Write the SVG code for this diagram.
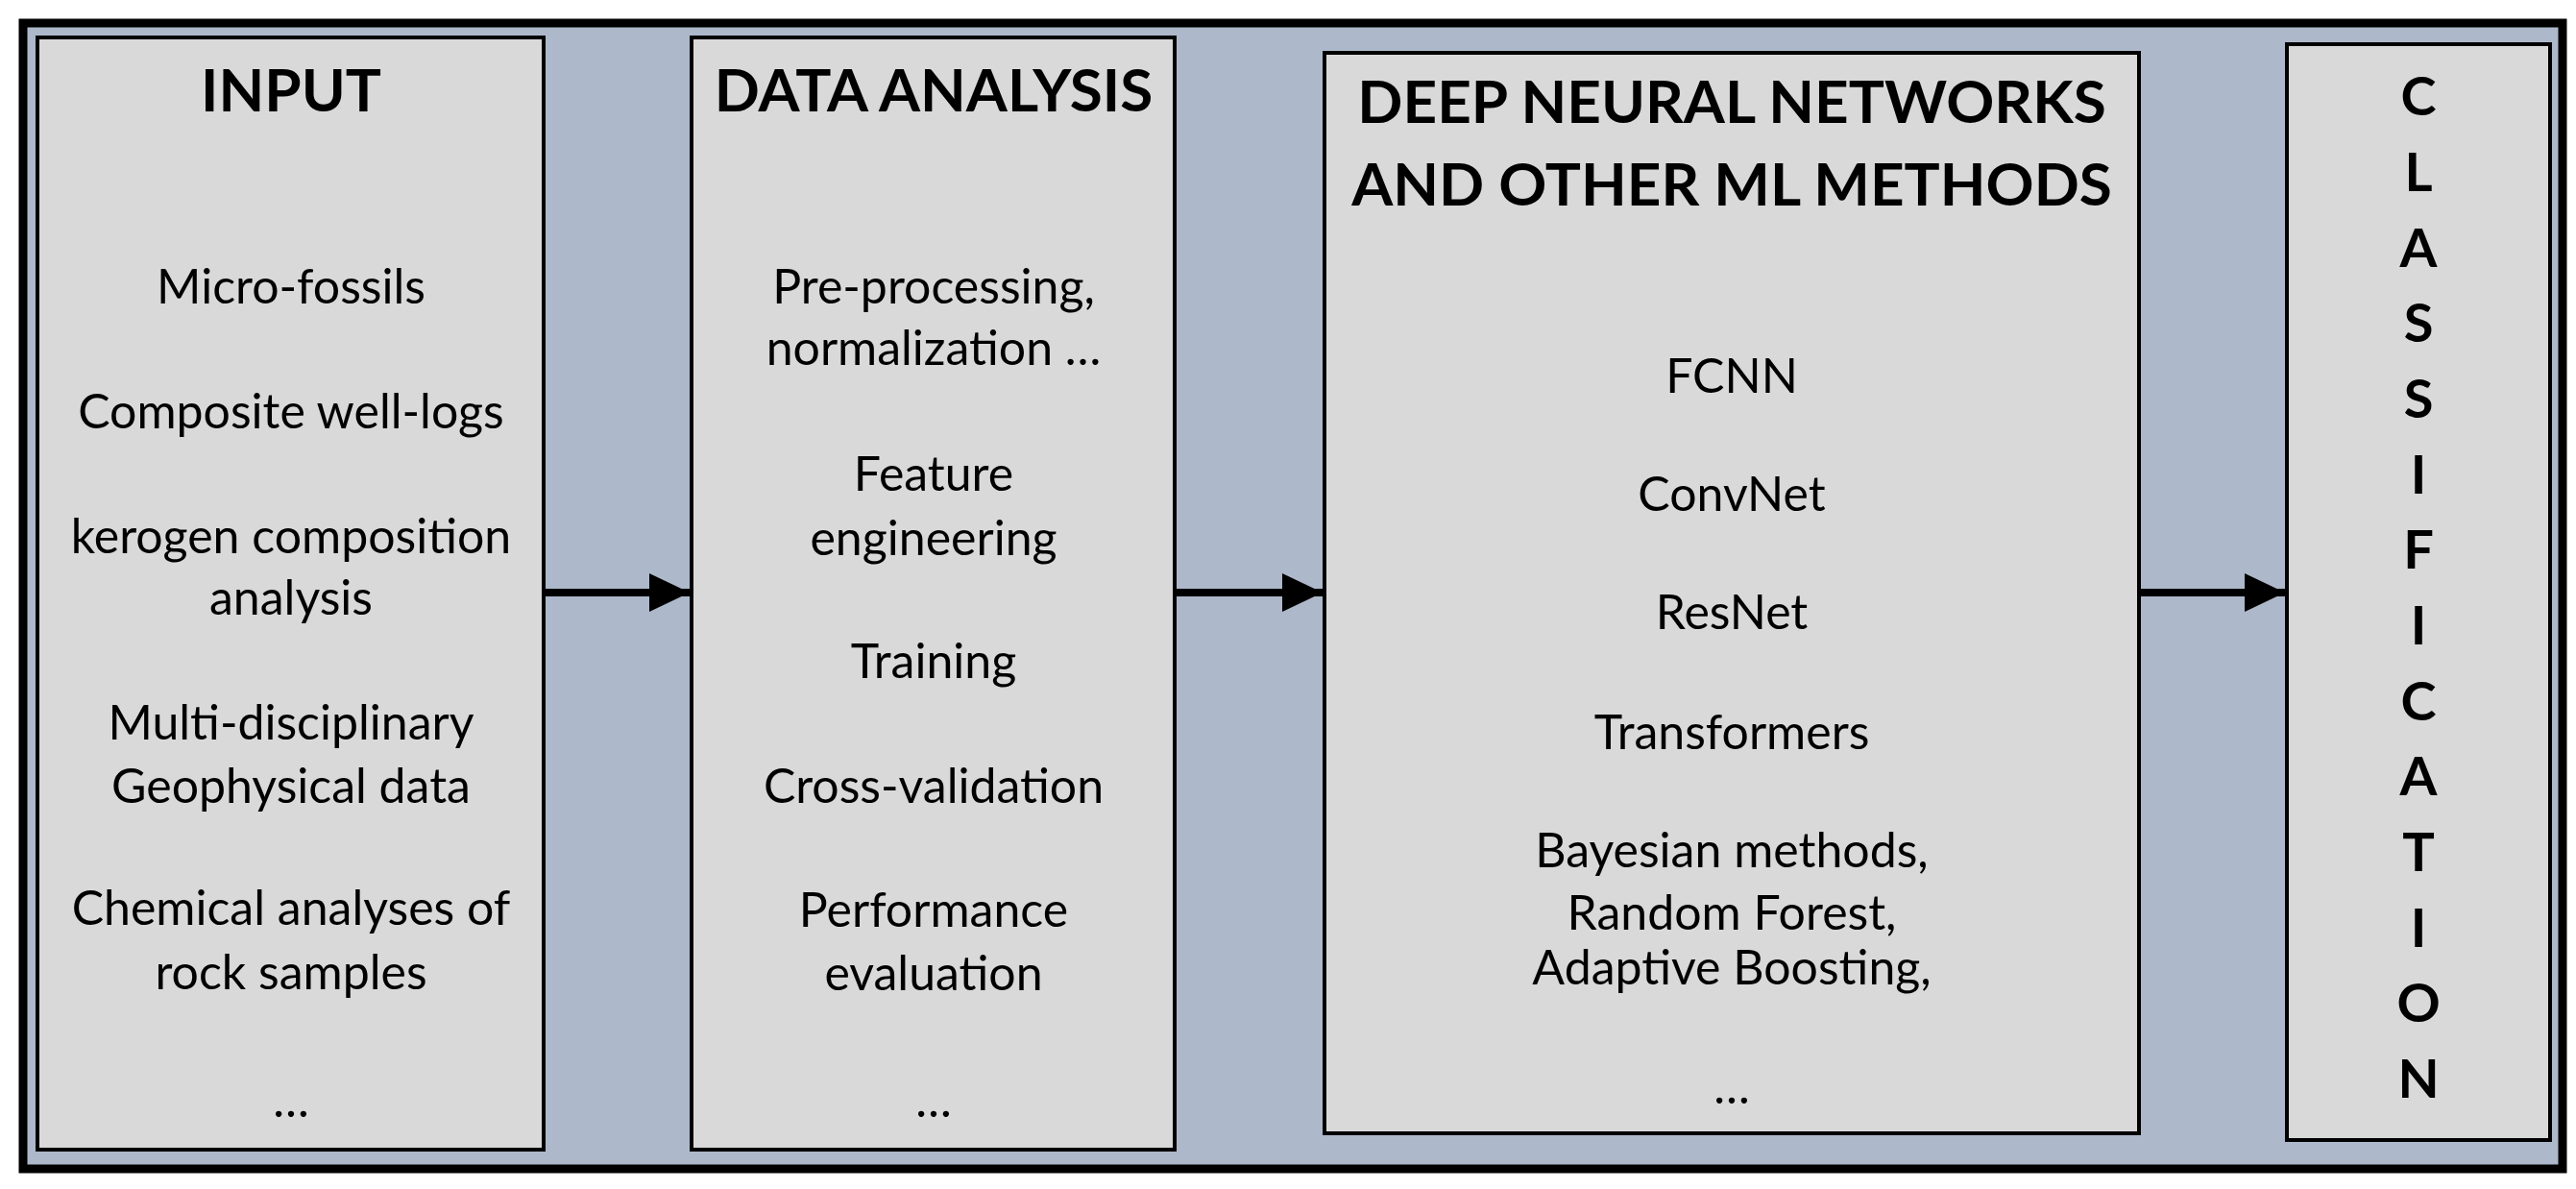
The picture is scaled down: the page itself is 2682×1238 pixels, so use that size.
<svg xmlns="http://www.w3.org/2000/svg" width="2682" height="1238" viewBox="0 0 2682 1238">
<style>
.box{fill:#d9d9d9;stroke:#000;stroke-width:4}
.t{font-family:Lato,"Liberation Sans",sans-serif;font-weight:bold;font-size:62px;text-anchor:middle;fill:#000}
.b{font-family:Lato,"Liberation Sans",sans-serif;font-size:50px;text-anchor:middle;fill:#000}
.c{font-family:Lato,"Liberation Sans",sans-serif;font-weight:bold;font-size:56px;text-anchor:middle;fill:#000}
.arr{stroke:#000;stroke-width:8;fill:none;marker-end:url(#ah)}
</style>
<defs><marker id="ah" markerUnits="userSpaceOnUse" markerWidth="44" markerHeight="44" refX="42" refY="22" orient="auto"><path d="M0,2 L42,22 L0,42 Z" fill="#000"/></marker></defs>
<rect width="2682" height="1238" fill="#fff"/>
<rect x="24" y="24" width="2644" height="1193" fill="#adb9ca" stroke="#000" stroke-width="9"/>
<g id="input">
<rect class="box" x="39" y="39" width="527" height="1158"/>
<text class="t" x="303" y="116">INPUT</text>
<text class="b" x="303" y="316">Micro-fossils</text>
<text class="b" x="303" y="446">Composite well-logs</text>
<text class="b" x="303" y="576">kerogen composition</text>
<text class="b" x="303" y="640">analysis</text>
<text class="b" x="303" y="770">Multi-disciplinary</text>
<text class="b" x="303" y="836">Geophysical data</text>
<text class="b" x="303" y="963">Chemical analyses of</text>
<text class="b" x="303" y="1030">rock samples</text>
<text class="b" x="303" y="1163">…</text>
</g>
<g id="data">
<rect class="box" x="720" y="39" width="503" height="1158"/>
<text class="t" x="972" y="116">DATA ANALYSIS</text>
<text class="b" x="972" y="316">Pre-processing,</text>
<text class="b" x="972" y="380">normalization …</text>
<text class="b" x="972" y="511">Feature</text>
<text class="b" x="972" y="578">engineering</text>
<text class="b" x="972" y="706">Training</text>
<text class="b" x="972" y="836">Cross-validation</text>
<text class="b" x="972" y="965">Performance</text>
<text class="b" x="972" y="1031">evaluation</text>
<text class="b" x="972" y="1163">…</text>
</g>
<g id="dnn">
<rect class="box" x="1379" y="55" width="848" height="1125"/>
<text class="t" x="1803" y="128">DEEP NEURAL NETWORKS</text>
<text class="t" x="1803" y="214">AND OTHER ML METHODS</text>
<text class="b" x="1803" y="409">FCNN</text>
<text class="b" x="1803" y="532">ConvNet</text>
<text class="b" x="1803" y="655">ResNet</text>
<text class="b" x="1803" y="780">Transformers</text>
<text class="b" x="1803" y="903">Bayesian methods,</text>
<text class="b" x="1803" y="968">Random Forest,</text>
<text class="b" x="1803" y="1025">Adaptive Boosting,</text>
<text class="b" x="1803" y="1149">…</text>
</g>
<g id="classification">
<rect class="box" x="2381" y="46" width="274" height="1141"/>
<text class="c" x="2518" y="120">C</text>
<text class="c" x="2518" y="199">L</text>
<text class="c" x="2518" y="278">A</text>
<text class="c" x="2518" y="356">S</text>
<text class="c" x="2518" y="435">S</text>
<text class="c" x="2518" y="514">I</text>
<text class="c" x="2518" y="592">F</text>
<text class="c" x="2518" y="671">I</text>
<text class="c" x="2518" y="750">C</text>
<text class="c" x="2518" y="828">A</text>
<text class="c" x="2518" y="907">T</text>
<text class="c" x="2518" y="986">I</text>
<text class="c" x="2518" y="1064">O</text>
<text class="c" x="2518" y="1143">N</text>
</g>
<g id="connectors">
<line class="arr" x1="568" y1="617" x2="718" y2="617"/>
<line class="arr" x1="1225" y1="617" x2="1377" y2="617"/>
<line class="arr" x1="2229" y1="617" x2="2379" y2="617"/>
</g>
</svg>
